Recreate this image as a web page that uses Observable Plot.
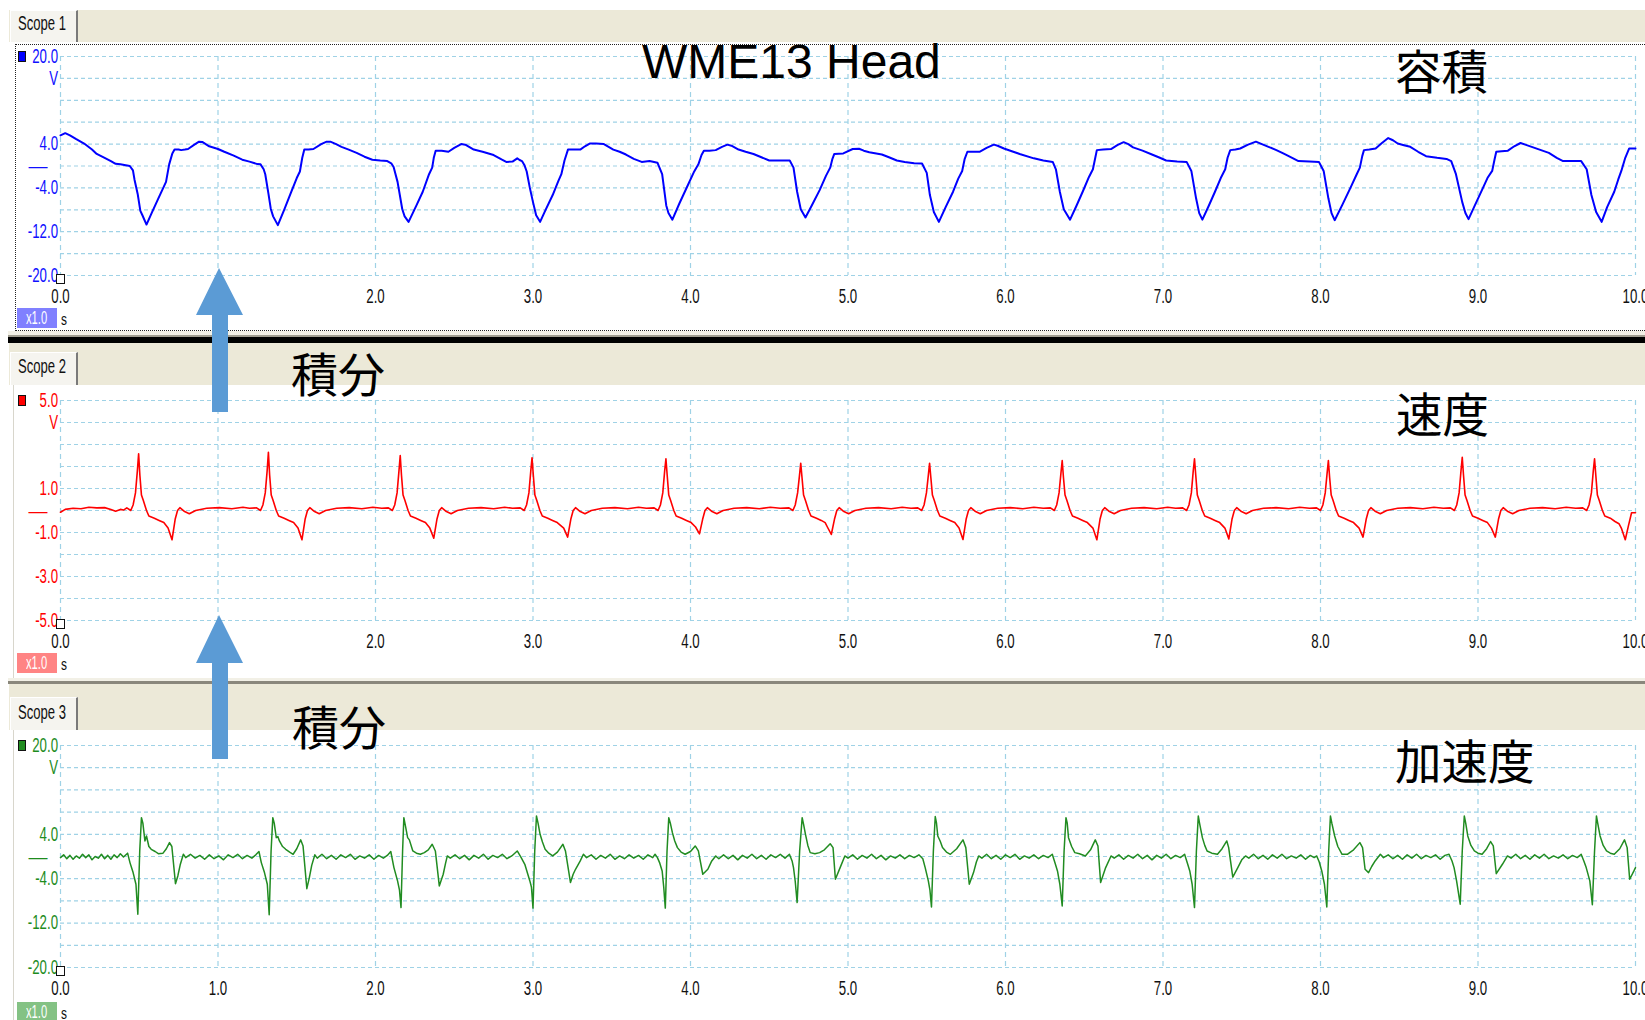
<!DOCTYPE html>
<html lang="ja">
<head>
<meta charset="utf-8">
<title>WME13 Head</title>
<script src="https://cdn.jsdelivr.net/npm/d3@7"></script>
<script src="https://cdn.jsdelivr.net/npm/@observablehq/plot@0.6"></script>
<style>
  html, body { margin: 0; padding: 0; background: #fff; overflow: hidden; }
  #page { position: relative; width: 1645px; height: 1020px; overflow: hidden;
          font-family: "Liberation Sans", Arial, sans-serif; }
  .abs { position: absolute; box-sizing: border-box; }
  .bar { background: #ECE9D8; }
  .tab { background: #F5F4EF; border-left: 1px solid #fff; border-top: 1px solid #fff;
         border-right: 2px solid #7a7a7a; }
  .cond { display: inline-block; transform-origin: 0 0; white-space: nowrap; }
  .frame { background: #fff; }
  .plot { position: absolute; left: 0; }
  svg.overlay { position: absolute; left: 0; top: 0; z-index: 10; pointer-events: none; }
</style>
</head>
<body>
<div id="page"></div>
<script>
// ---- data -------------------------------------------------------------
const chartTitle = "WME13 Head";
const scopeNames = ["Scope 1", "Scope 2", "Scope 3"];
const quantityNames = ["容積", "速度", "加速度"];
const integrateLabel = "積分";

const timeGrid = [0, 1, 2, 3, 4, 5, 6, 7, 8, 9, 10];
const timeTicks = [0, 1, 2, 3, 4, 5, 6, 7, 8, 9, 10];

const volumeGrid = [20, 16, 12, 8, 4, 0, -4, -8, -12, -16, -20];
const volumeTicks = [20, 16, 4, -4, -12, -20];
const volumeTickText = ["20.0", "V", "4.0", "-4.0", "-12.0", "-20.0"];

const velocityGrid = [5, 4, 3, 2, 1, 0, -1, -2, -3, -4, -5];
const velocityTicks = [5, 4, 1, -1, -3, -5];
const velocityTickText = ["5.0", "V", "1.0", "-1.0", "-3.0", "-5.0"];

const accelGrid = [20, 16, 12, 8, 4, 0, -4, -8, -12, -16, -20];
const accelTicks = [20, 16, 4, -4, -12, -20];
const accelTickText = ["20.0", "V", "4.0", "-4.0", "-12.0", "-20.0"];

// volume trace [s, V]
const volumeTrace = [
  [0.00,5.6],[0.03,6.0],[0.06,5.6],[0.10,4.9],[0.15,4.1],[0.20,3.0],[0.23,2.2],[0.28,1.5],[0.32,0.9],[0.35,0.4],[0.38,0.3],[0.44,0.0],
  [0.46,-0.8],[0.47,-2.5],[0.49,-5.1],[0.507,-8.2],[0.52,-9.0],[0.546,-10.7],
  [0.58,-8.5],[0.62,-6.0],[0.67,-2.9],[0.69,0.3],[0.71,2.3],[0.724,3.0],[0.75,3.0],[0.766,2.9],[0.79,3.0],[0.81,3.1],[0.85,3.9],[0.88,4.45],[0.90,4.4],[0.944,3.6],[1.00,3.1],[1.04,2.6],[1.10,1.9],[1.154,1.15],[1.20,0.8],[1.25,0.35],[1.27,0.3],
  [1.29,-0.6],[1.30,-1.5],[1.32,-5.0],[1.335,-7.8],[1.35,-9.2],[1.38,-10.8],
  [1.42,-8.0],[1.46,-5.1],[1.50,-2.2],[1.52,-1.0],[1.535,1.5],[1.548,3.0],[1.575,3.0],[1.606,3.1],[1.655,4.0],[1.69,4.45],[1.713,4.45],[1.75,4.0],[1.784,3.5],[1.83,3.0],[1.88,2.4],[1.93,1.7],[1.98,1.15],[2.03,1.0],[2.075,0.9],[2.10,0.5],
  [2.115,-0.2],[2.14,-2.9],[2.17,-7.9],[2.185,-9.2],[2.21,-10.2],
  [2.26,-7.2],[2.30,-4.7],[2.34,-1.5],[2.36,-0.3],[2.37,1.5],[2.382,2.8],[2.42,2.8],[2.463,2.6],[2.50,3.3],[2.544,4.0],[2.57,3.9],[2.624,3.0],[2.68,2.6],[2.75,2.0],[2.80,1.2],[2.83,0.75],[2.87,0.8],[2.90,1.4],[2.915,1.1],[2.93,0.9],[2.945,0.2],
  [2.96,-1.0],[2.98,-4.0],[3.00,-6.6],[3.02,-9.0],[3.045,-10.2],
  [3.08,-8.0],[3.125,-5.3],[3.16,-2.8],[3.18,-1.5],[3.20,1.0],[3.222,3.0],[3.26,3.0],[3.30,3.0],[3.33,3.6],[3.36,4.1],[3.40,4.1],[3.45,4.0],[3.51,3.0],[3.55,2.6],[3.59,2.1],[3.64,1.3],[3.69,0.75],[3.74,0.9],[3.79,0.6],
  [3.82,-1.5],[3.846,-7.2],[3.86,-8.6],[3.885,-9.8],
  [3.93,-6.8],[3.98,-3.7],[4.02,-1.2],[4.05,0.3],[4.07,2.0],[4.085,2.8],[4.12,2.8],[4.16,2.9],[4.20,3.5],[4.234,3.9],[4.26,3.7],[4.305,3.0],[4.35,2.6],[4.40,2.2],[4.45,1.6],[4.50,1.0],[4.56,1.0],[4.63,1.0],
  [4.654,-0.3],[4.677,-4.7],[4.70,-7.9],[4.73,-9.4],
  [4.77,-7.2],[4.82,-4.4],[4.86,-1.8],[4.887,-0.3],[4.90,1.2],[4.913,2.2],[4.97,2.3],[5.03,3.1],[5.07,3.15],[5.10,2.8],[5.135,2.5],[5.215,2.1],[5.26,1.6],[5.31,1.0],[5.36,0.75],[5.42,0.5],[5.47,0.45],
  [5.50,-1.25],[5.52,-5.3],[5.545,-8.4],[5.577,-10.2],
  [5.62,-7.5],[5.667,-4.7],[5.70,-2.3],[5.725,-0.9],[5.74,1.2],[5.758,2.6],[5.80,2.6],[5.835,2.6],[5.88,3.3],[5.926,3.9],[5.95,3.7],[5.99,3.2],[6.04,2.7],[6.09,2.2],[6.18,1.4],[6.24,1.0],[6.30,0.75],
  [6.32,-0.6],[6.345,-4.7],[6.37,-7.9],[6.41,-9.8],
  [6.45,-7.3],[6.49,-4.7],[6.53,-2.0],[6.555,-0.6],[6.57,1.5],[6.58,2.9],[6.62,3.0],[6.67,3.1],[6.71,3.8],[6.75,4.35],[6.78,4.0],[6.81,3.4],[6.87,2.8],[6.93,2.1],[6.98,1.5],[7.02,1.0],[7.09,0.8],[7.15,0.75],
  [7.18,-0.9],[7.21,-5.9],[7.23,-8.6],[7.25,-9.8],
  [7.29,-7.3],[7.33,-4.7],[7.37,-2.0],[7.395,-0.6],[7.41,1.5],[7.427,2.9],[7.46,3.0],[7.49,3.2],[7.54,3.9],[7.59,4.45],[7.62,4.1],[7.67,3.5],[7.72,2.9],[7.77,2.2],[7.82,1.5],[7.86,0.9],[7.93,0.8],[7.99,0.75],
  [8.02,-0.9],[8.05,-5.9],[8.07,-8.6],[8.09,-9.9],
  [8.14,-7.0],[8.19,-4.0],[8.23,-1.5],[8.25,-0.3],[8.265,1.8],[8.276,2.9],[8.31,3.0],[8.35,3.2],[8.39,4.2],[8.43,5.1],[8.46,4.7],[8.49,4.1],[8.53,3.8],[8.57,3.5],[8.62,2.6],[8.67,1.8],[8.74,1.5],[8.80,1.3],[8.83,0.9],
  [8.86,-1.5],[8.90,-6.6],[8.92,-8.6],[8.94,-9.7],
  [8.98,-7.2],[9.025,-4.4],[9.06,-2.2],[9.09,-0.9],[9.105,1.2],[9.116,2.6],[9.15,2.7],[9.19,2.8],[9.23,3.6],[9.27,4.2],[9.30,3.9],[9.35,3.4],[9.40,2.9],[9.45,2.4],[9.50,1.5],[9.54,0.9],[9.60,0.9],[9.655,0.9],
  [9.69,-0.6],[9.72,-5.3],[9.75,-8.4],[9.785,-10.2],
  [9.82,-7.5],[9.865,-4.7],[9.89,-2.5],[9.91,-0.9],[9.935,1.5],[9.96,3.2],[9.99,3.2],[10.0,3.2]
];

// velocity trace [s, V]
const velocityTrace = [
  [0,-0.08],[0.03,0.05],[0.08,0.1],[0.13,0.08],[0.18,0.15],[0.23,0.12],[0.28,0.13],[0.32,0.05],[0.35,-0.03],[0.38,0.05],[0.40,0.02],
  [0.421,0.12],[0.446,0.0],[0.461,0.25],[0.476,0.8],[0.488,1.8],[0.496,2.58],[0.504,1.6],[0.514,0.7],[0.526,0.45],[0.546,0.0],[0.561,-0.25],[0.596,-0.35],[0.626,-0.45],[0.656,-0.55],[0.683,-0.8],[0.708,-1.33],[0.728,-0.4],[0.743,0.0],[0.758,0.13],[0.788,-0.05],[0.818,-0.15],[0.858,0.0],[0.928,0.1],[1.008,0.13],[1.088,0.08],[1.158,0.15],[1.20,0.1],
  [1.245,0.12],[1.27,0.0],[1.285,0.25],[1.30,0.8],[1.312,1.8],[1.32,2.65],[1.328,1.6],[1.338,0.7],[1.35,0.45],[1.37,0.0],[1.385,-0.25],[1.42,-0.35],[1.45,-0.45],[1.48,-0.55],[1.508,-0.8],[1.533,-1.33],[1.553,-0.4],[1.568,0.0],[1.583,0.13],[1.613,-0.05],[1.643,-0.15],[1.683,0.0],[1.753,0.1],[1.833,0.13],[1.913,0.08],[1.983,0.15],[2.04,0.1],
  [2.082,0.12],[2.107,0.0],[2.122,0.25],[2.137,0.8],[2.149,1.8],[2.157,2.5],[2.165,1.6],[2.175,0.7],[2.187,0.45],[2.207,0.0],[2.222,-0.25],[2.257,-0.35],[2.287,-0.45],[2.317,-0.55],[2.345,-0.8],[2.37,-1.26],[2.39,-0.4],[2.405,0.0],[2.42,0.13],[2.45,-0.05],[2.48,-0.15],[2.52,0.0],[2.59,0.1],[2.67,0.13],[2.75,0.08],[2.82,0.15],[2.87,0.1],
  [2.919,0.12],[2.944,0.0],[2.959,0.25],[2.974,0.8],[2.986,1.8],[2.994,2.4],[3.002,1.6],[3.012,0.7],[3.024,0.45],[3.044,0.0],[3.059,-0.25],[3.094,-0.35],[3.124,-0.45],[3.154,-0.55],[3.195,-0.8],[3.22,-1.21],[3.24,-0.4],[3.255,0.0],[3.27,0.13],[3.30,-0.05],[3.33,-0.15],[3.37,0.0],[3.44,0.1],[3.52,0.13],[3.60,0.08],[3.67,0.15],[3.72,0.1],
  [3.769,0.12],[3.794,0.0],[3.809,0.25],[3.824,0.8],[3.836,1.8],[3.844,2.35],[3.852,1.6],[3.862,0.7],[3.874,0.45],[3.894,0.0],[3.909,-0.25],[3.944,-0.35],[3.974,-0.45],[4.004,-0.55],[4.032,-0.75],[4.057,-1.06],[4.077,-0.4],[4.092,0.0],[4.107,0.13],[4.137,-0.05],[4.167,-0.15],[4.207,0.0],[4.277,0.1],[4.357,0.13],[4.437,0.08],[4.507,0.15],[4.57,0.1],
  [4.625,0.12],[4.65,0.0],[4.665,0.25],[4.68,0.8],[4.692,1.6],[4.70,2.15],[4.708,1.5],[4.718,0.7],[4.73,0.45],[4.75,0.0],[4.765,-0.25],[4.80,-0.35],[4.83,-0.45],[4.855,-0.55],[4.869,-0.75],[4.894,-1.09],[4.914,-0.4],[4.929,0.0],[4.944,0.13],[4.974,-0.05],[5.004,-0.15],[5.044,0.0],[5.114,0.1],[5.194,0.13],[5.274,0.08],[5.344,0.15],[5.40,0.1],
  [5.443,0.12],[5.468,0.0],[5.483,0.25],[5.498,0.8],[5.51,1.6],[5.518,2.15],[5.526,1.5],[5.536,0.7],[5.548,0.45],[5.568,0.0],[5.583,-0.25],[5.618,-0.35],[5.648,-0.45],[5.678,-0.55],[5.705,-0.8],[5.73,-1.32],[5.75,-0.4],[5.765,0.0],[5.78,0.13],[5.81,-0.05],[5.84,-0.15],[5.88,0.0],[5.95,0.1],[6.03,0.13],[6.11,0.08],[6.18,0.15],[6.24,0.1],
  [6.285,0.12],[6.31,0.0],[6.325,0.25],[6.34,0.8],[6.352,1.7],[6.36,2.27],[6.368,1.5],[6.378,0.7],[6.39,0.45],[6.41,0.0],[6.425,-0.25],[6.46,-0.35],[6.49,-0.45],[6.52,-0.55],[6.555,-0.8],[6.58,-1.33],[6.60,-0.4],[6.615,0.0],[6.63,0.13],[6.66,-0.05],[6.69,-0.15],[6.73,0.0],[6.80,0.1],[6.88,0.13],[6.96,0.08],[7.03,0.15],[7.08,0.1],
  [7.125,0.12],[7.15,0.0],[7.165,0.25],[7.18,0.8],[7.192,1.8],[7.20,2.35],[7.208,1.6],[7.218,0.7],[7.23,0.45],[7.25,0.0],[7.265,-0.25],[7.30,-0.35],[7.33,-0.45],[7.36,-0.55],[7.393,-0.8],[7.418,-1.29],[7.438,-0.4],[7.453,0.0],[7.468,0.13],[7.498,-0.05],[7.528,-0.15],[7.568,0.0],[7.638,0.1],[7.718,0.13],[7.798,0.08],[7.868,0.15],[7.93,0.1],
  [7.975,0.12],[8.0,0.0],[8.015,0.25],[8.03,0.8],[8.042,1.7],[8.05,2.27],[8.058,1.5],[8.068,0.7],[8.08,0.45],[8.10,0.0],[8.115,-0.25],[8.15,-0.35],[8.18,-0.45],[8.21,-0.55],[8.245,-0.8],[8.27,-1.21],[8.29,-0.4],[8.305,0.0],[8.32,0.13],[8.35,-0.05],[8.38,-0.15],[8.42,0.0],[8.49,0.1],[8.57,0.13],[8.65,0.08],[8.72,0.15],[8.78,0.1],
  [8.825,0.12],[8.85,0.0],[8.865,0.25],[8.88,0.8],[8.892,1.8],[8.90,2.42],[8.908,1.6],[8.918,0.7],[8.93,0.45],[8.95,0.0],[8.965,-0.25],[9.0,-0.35],[9.03,-0.45],[9.06,-0.55],[9.085,-0.8],[9.11,-1.21],[9.13,-0.4],[9.145,0.0],[9.16,0.13],[9.19,-0.05],[9.22,-0.15],[9.26,0.0],[9.33,0.1],[9.41,0.13],[9.49,0.08],[9.56,0.15],[9.62,0.1],
  [9.665,0.12],[9.69,0.0],[9.705,0.25],[9.72,0.8],[9.732,1.8],[9.74,2.35],[9.748,1.6],[9.758,0.7],[9.77,0.45],[9.79,0.0],[9.805,-0.25],[9.84,-0.35],[9.87,-0.5],[9.895,-0.6],[9.91,-0.8],[9.935,-1.33],[9.955,-0.7],[9.975,-0.1],[10.0,-0.1]
];

// acceleration trace [s, V]
const accelTrace = [
  [0.00,-0.2],[0.02,0.3],[0.04,-0.4],[0.06,0.2],[0.08,-0.5],[0.10,0.1],[0.12,-0.3],[0.14,0.4],[0.16,-0.2],[0.18,0.3],[0.20,-0.6],[0.22,0.0],[0.24,-0.3],[0.26,0.4],[0.28,-0.4],[0.30,0.2],[0.32,-0.5],[0.34,0.3],[0.36,-0.2],[0.38,0.5],[0.40,-0.1],
  [0.426,0.6],[0.441,-1.1],[0.461,-2.9],[0.479,-5.0],[0.491,-10.4],[0.503,1.0],[0.514,7.0],[0.523,6.0],[0.536,2.8],[0.546,3.7],[0.561,1.8],[0.576,1.3],[0.601,0.9],[0.621,0.5],[0.651,0.6],[0.672,1.4],[0.692,2.5],[0.707,1.8],[0.73,-4.9],[0.745,-3.5],[0.76,-1.5],[0.78,0.4],[0.795,-0.2],
  [0.825,0.4],[0.855,-0.3],[0.885,0.2],[0.915,-0.5],[0.945,0.3],[0.975,-0.4],[1.005,0.1],[1.035,-0.6],[1.065,0.3],[1.095,-0.2],[1.125,0.4],[1.155,-0.4],[1.185,0.2],[1.215,-0.3],[1.24,0.3],
  [1.26,0.9],[1.275,-1.1],[1.295,-2.9],[1.313,-5.0],[1.325,-10.5],[1.337,1.0],[1.348,7.0],[1.357,6.0],[1.37,3.4],[1.38,3.6],[1.39,2.8],[1.41,1.8],[1.43,1.3],[1.455,0.8],[1.477,0.4],[1.50,1.4],[1.525,3.0],[1.54,1.9],[1.564,-5.8],[1.58,-3.8],[1.595,-1.6],[1.615,0.3],[1.63,-0.3],
  [1.66,0.4],[1.69,-0.4],[1.72,0.2],[1.75,-0.5],[1.78,0.3],[1.81,-0.2],[1.84,0.4],[1.87,-0.5],[1.90,0.1],[1.93,-0.3],[1.96,0.3],[1.99,-0.5],[2.02,0.2],[2.05,-0.3],[2.075,0.2],
  [2.097,0.9],[2.117,-2.0],[2.14,-4.4],[2.152,-6.0],[2.162,-9.2],[2.172,1.0],[2.18,7.0],[2.19,5.5],[2.204,3.4],[2.215,3.0],[2.237,1.0],[2.26,0.6],[2.285,0.4],[2.31,0.7],[2.335,1.2],[2.36,2.2],[2.38,1.0],[2.405,-5.3],[2.43,-3.2],[2.445,-1.2],[2.456,0.1],[2.475,-0.3],
  [2.505,0.3],[2.535,-0.4],[2.565,0.2],[2.595,-0.6],[2.625,0.2],[2.655,-0.3],[2.685,0.4],[2.715,-0.5],[2.745,0.2],[2.775,-0.2],[2.805,0.4],[2.835,-0.4],[2.865,0.1],
  [2.90,1.0],[2.925,-0.2],[2.948,-1.4],[2.98,-4.4],[2.99,-5.5],[3.0,-9.3],[3.011,1.0],[3.022,7.3],[3.032,6.0],[3.045,4.0],[3.06,2.6],[3.077,1.3],[3.10,0.6],[3.125,0.1],[3.155,0.8],[3.19,2.2],[3.206,1.0],[3.238,-4.7],[3.255,-3.2],[3.27,-2.3],[3.30,-0.8],[3.32,0.4],[3.34,-0.2],
  [3.37,0.3],[3.40,-0.5],[3.43,0.2],[3.46,-0.3],[3.49,0.4],[3.52,-0.5],[3.55,0.1],[3.58,-0.4],[3.61,0.3],[3.64,-0.3],[3.67,0.2],[3.70,-0.5],[3.73,0.3],[3.76,-0.2],
  [3.775,0.4],[3.79,-0.2],[3.805,-1.2],[3.82,-2.6],[3.83,-5.5],[3.84,-9.3],[3.851,1.0],[3.862,7.0],[3.872,6.0],[3.885,4.3],[3.90,2.8],[3.917,1.6],[3.94,0.8],[3.966,0.4],[4.0,0.9],[4.03,1.9],[4.05,1.0],[4.078,-3.2],[4.11,-2.3],[4.135,-0.8],[4.16,0.1],[4.18,-0.4],
  [4.21,0.3],[4.24,-0.4],[4.27,0.2],[4.30,-0.6],[4.33,0.2],[4.36,-0.3],[4.39,0.4],[4.42,-0.4],[4.45,0.2],[4.48,-0.5],[4.51,0.3],[4.54,-0.2],[4.57,0.4],[4.60,-0.3],
  [4.628,0.4],[4.645,-0.8],[4.654,-2.0],[4.665,-4.5],[4.677,-8.3],[4.693,1.0],[4.709,7.0],[4.718,5.8],[4.73,4.0],[4.745,2.0],[4.76,0.7],[4.79,0.5],[4.82,0.7],[4.85,1.2],[4.887,2.3],[4.905,1.6],[4.92,-4.1],[4.95,-2.0],[4.98,0.1],[5.0,-0.3],
  [5.03,0.3],[5.06,-0.5],[5.09,0.2],[5.12,-0.3],[5.15,0.4],[5.18,-0.4],[5.21,0.2],[5.24,-0.6],[5.27,0.1],[5.30,-0.3],[5.33,0.3],[5.36,-0.4],[5.39,0.2],[5.42,-0.2],[5.45,0.3],
  [5.475,-0.4],[5.49,-2.0],[5.51,-4.4],[5.52,-6.0],[5.53,-9.1],[5.542,1.0],[5.554,7.2],[5.562,6.0],[5.57,3.7],[5.585,2.8],[5.60,1.6],[5.625,0.8],[5.65,0.4],[5.69,1.4],[5.73,3.0],[5.748,1.6],[5.77,-5.0],[5.797,-2.9],[5.815,-1.0],[5.83,0.1],[5.85,-0.3],
  [5.88,0.4],[5.91,-0.4],[5.94,0.2],[5.97,-0.5],[6.00,0.3],[6.03,-0.2],[6.06,0.4],[6.09,-0.5],[6.12,0.1],[6.15,-0.3],[6.18,0.3],[6.21,-0.4],[6.24,0.2],[6.27,-0.2],
  [6.297,0.4],[6.315,-1.2],[6.33,-2.6],[6.345,-5.0],[6.36,-8.9],[6.372,1.0],[6.384,7.0],[6.392,6.0],[6.40,3.4],[6.42,1.8],[6.44,0.7],[6.47,0.5],[6.507,0.1],[6.54,1.2],[6.57,3.0],[6.587,1.9],[6.604,-4.7],[6.636,-2.0],[6.67,0.1],[6.69,-0.3],
  [6.72,0.3],[6.75,-0.5],[6.78,0.2],[6.81,-0.3],[6.84,0.4],[6.87,-0.4],[6.90,0.2],[6.93,-0.6],[6.96,0.2],[6.99,-0.3],[7.02,0.4],[7.05,-0.4],[7.08,0.2],[7.11,-0.2],
  [7.137,0.4],[7.155,-1.2],[7.17,-2.6],[7.185,-5.0],[7.20,-9.2],[7.212,1.0],[7.224,7.3],[7.232,6.0],[7.25,3.4],[7.265,2.0],[7.28,1.0],[7.31,0.6],[7.346,0.4],[7.375,1.4],[7.405,2.8],[7.417,1.6],[7.443,-3.7],[7.475,-2.0],[7.50,-0.6],[7.524,0.1],[7.545,-0.3],
  [7.575,0.4],[7.605,-0.4],[7.635,0.2],[7.665,-0.5],[7.695,0.3],[7.725,-0.3],[7.755,0.4],[7.785,-0.4],[7.815,0.1],[7.845,-0.3],[7.875,0.3],[7.905,-0.5],[7.935,0.2],[7.96,-0.2],
  [7.976,0.1],[7.992,-1.0],[8.008,-2.6],[8.025,-5.0],[8.04,-9.1],[8.052,1.0],[8.063,7.3],[8.072,6.0],[8.09,3.7],[8.11,1.8],[8.137,0.4],[8.17,0.4],[8.21,1.2],[8.25,2.5],[8.267,1.6],[8.283,-2.3],[8.305,-2.9],[8.325,-1.8],[8.347,-0.8],[8.38,0.4],[8.40,-0.2],
  [8.43,0.3],[8.46,-0.4],[8.49,0.2],[8.52,-0.5],[8.55,0.3],[8.58,-0.3],[8.61,0.4],[8.64,-0.4],[8.67,0.2],[8.70,-0.2],[8.73,0.3],[8.76,-0.5],[8.79,0.2],
  [8.816,0.4],[8.835,-0.8],[8.848,-2.0],[8.864,-4.4],[8.887,-8.6],[8.90,1.0],[8.913,7.3],[8.922,6.0],[8.935,3.7],[8.955,2.0],[8.977,1.0],[9.0,0.6],[9.026,0.4],[9.055,1.4],[9.08,2.7],[9.097,1.9],[9.116,-3.1],[9.155,-1.4],[9.187,0.1],[9.21,-0.3],
  [9.24,0.4],[9.27,-0.4],[9.30,0.2],[9.33,-0.5],[9.36,0.3],[9.39,-0.3],[9.42,0.4],[9.45,-0.4],[9.48,0.1],[9.51,-0.3],[9.54,0.3],[9.57,-0.4],[9.60,0.2],[9.63,-0.2],
  [9.655,0.4],[9.672,-0.8],[9.687,-2.0],[9.71,-4.4],[9.726,-8.7],[9.74,1.0],[9.752,7.3],[9.76,6.0],[9.775,3.7],[9.795,2.0],[9.816,1.0],[9.84,0.6],[9.865,0.4],[9.90,1.4],[9.93,3.0],[9.947,1.6],[9.963,-4.1],[9.99,-2.6],[10.0,-2.0]
];

// ---- panel layout and styling -----------------------------------------
const GRID = "#9fd2e6";
const scopes = [
  { trace: volumeTrace, grid: volumeGrid, ticks: volumeTicks, tickText: volumeTickText, domain: [-20, 20],
    color: "#0000ff", labelColor: "#1010ff", boxColor: "#8080ff", lineWidth: 2,
    bar: [10, 32], tab: [10, 32], tabBaseline: 29.5, frame: [44, 287], focus: true,
    svg: [44, 287, 12, 56], xboxTop: 308 },
  { trace: velocityTrace, grid: velocityGrid, ticks: velocityTicks, tickText: velocityTickText, domain: [-5, 5],
    color: "#ff0000", labelColor: "#ff0000", boxColor: "#ff8484", lineWidth: 1.6,
    bar: [343, 42], tab: [352, 33], tabBaseline: 373, frame: [385, 293], focus: false,
    svg: [386, 292, 14, 58], xboxTop: 653 },
  { trace: accelTrace, grid: accelGrid, ticks: accelTicks, tickText: accelTickText, domain: [-20, 20],
    color: "#218c21", labelColor: "#1e8c1e", boxColor: "#84c284", lineWidth: 1.5,
    bar: [684, 46], tab: [697, 33], tabBaseline: 719, frame: [730, 290], focus: false,
    svg: [731, 289, 14, 53], xboxTop: 1002 }
];
const separators = [
  { top: 331, height: 4, color: "#f2f0e6" }, { top: 335, height: 2, color: "#a09d90" }, { top: 337, height: 6, color: "#000" },
  { top: 678, height: 3, color: "#f2f0e6" }, { top: 681, height: 3, color: "#8a877c" }
];

const page = document.getElementById("page");
function div(cls, css, html) {
  const d = document.createElement("div");
  d.className = cls;
  Object.assign(d.style, css);
  if (html != null) d.innerHTML = html;
  page.appendChild(d);
  return d;
}

// horizontally condense the tick label texts (narrow screen font look)
function condense(svg, sx) {
  svg.querySelectorAll("text").forEach(t => {
    if (t.textContent === "—") return;
    const tr = t.getAttribute("transform") || "";
    t.setAttribute("transform", `${tr} scale(${sx},1)`);
  });
}

scopes.forEach((s, k) => {
  // tab strip
  div("abs bar", { left: "9px", top: s.bar[0] + "px", width: "1636px", height: s.bar[1] + "px" });
  div("abs tab", { left: "10px", top: s.tab[0] + "px", width: "68px", height: s.tab[1] + "px" });
  div("abs", { left: "18px", top: (s.tabBaseline - 17) + "px", font: "19.5px/20px 'Liberation Sans', Arial, sans-serif", color: "#111" },
      `<span class="cond" style="transform:scaleX(0.67)">${scopeNames[k]}</span>`);

  // scope frame
  div("abs frame", Object.assign({ left: "13px", top: s.frame[0] + "px", width: "1640px", height: s.frame[1] + "px" },
      s.focus ? { border: "1px dotted #222", left: "15px" } : { borderLeft: "1px solid #d8d6cc" }));

  const [top, height, mt, mb] = s.svg;
  const svg = Plot.plot({
    width: 1645, height, marginLeft: 60, marginRight: 10, marginTop: mt, marginBottom: mb,
    x: { domain: [0, 10], axis: null },
    y: { domain: s.domain, axis: null },
    style: { background: "transparent", overflow: "visible", fontFamily: "'Liberation Sans', Arial, sans-serif" },
    marks: [
      Plot.ruleY(s.grid, { y: d => d, stroke: GRID, strokeDasharray: "4,3", strokeWidth: 1.2 }),
      Plot.ruleX(timeGrid, { x: d => d, stroke: GRID, strokeDasharray: "5,4", strokeWidth: 1.2 }),
      Plot.line(s.trace, { x: d => d[0], y: d => d[1], stroke: s.color, strokeWidth: s.lineWidth }),
      Plot.text(s.ticks, { y: d => d, text: (d, i) => s.tickText[i], frameAnchor: "left", textAnchor: "end",
        lineAnchor: "middle", dx: -2.5, fill: s.labelColor, fontSize: 19.5 }),
      Plot.text([0], { y: d => d, text: () => "—", frameAnchor: "left", textAnchor: "middle",
        lineAnchor: "middle", dx: -22.5, fill: s.labelColor, fontSize: 19 }),
      Plot.text(timeTicks, { x: d => d, text: d => d.toFixed(1), frameAnchor: "bottom", lineAnchor: "middle",
        dy: 21, fill: "#111", fontSize: 19.5 })
    ]
  });
  condense(svg, 0.68);
  svg.classList.add("plot");
  svg.style.top = top + "px";
  page.appendChild(svg);

  // channel square, origin marker, scale box
  const yTop = top + mt, yBot = top + height - mb;
  div("abs", { left: "18px", top: (yTop - 5) + "px", width: "8px", height: "11px", background: s.color, border: "1px solid #111" });
  div("abs", { left: "56px", top: (yBot - 1) + "px", width: "9px", height: "10px", background: "#fff", border: "1.5px solid #111" });
  div("abs", { left: "17px", top: s.xboxTop + "px", width: "40px", height: "20px", background: s.boxColor,
    color: "#fff", font: "18px/20px 'Liberation Sans', Arial, sans-serif", paddingLeft: "9px" },
    `<span class="cond" style="transform:scaleX(0.62)">x1.0</span>`);
  div("abs", { left: "61px", top: (s.xboxTop + 2) + "px", color: "#111", font: "17px/20px 'Liberation Sans', Arial, sans-serif" },
    `<span class="cond" style="transform:scaleX(0.7)">s</span>`);
});

separators.forEach(p => div("abs", { left: "8px", top: p.top + "px", width: "1637px", height: p.height + "px", background: p.color }));

// ---- annotations: title, quantity names, integration arrows -------------
const NS = "http://www.w3.org/2000/svg";
const ov = document.createElementNS(NS, "svg");
ov.setAttribute("class", "overlay");
ov.setAttribute("width", 1645);
ov.setAttribute("height", 1020);
page.appendChild(ov);
function el(tag, attrs, text) {
  const e = document.createElementNS(NS, tag);
  for (const k in attrs) e.setAttribute(k, attrs[k]);
  if (text != null) e.textContent = text;
  ov.appendChild(e);
  return e;
}
const ARROW = "#5b9bd5";
[[268, 315, 412], [615, 663, 759]].forEach(([tip, base, end]) => {
  el("polygon", { fill: ARROW, points: `219,${tip} 243,${base} 228,${base} 228,${end} 212,${end} 212,${base} 196,${base}` });
});
const jp = "'Noto Sans CJK JP', 'Noto Sans CJK SC', sans-serif";
el("text", { x: 642, y: 78, "font-size": 48, "font-family": "'Liberation Sans', Arial, sans-serif", fill: "#000" }, chartTitle);
el("text", { x: 1395, y: 88.5, "font-size": 46.5, "font-family": jp, fill: "#000" }, quantityNames[0]);
el("text", { x: 1396, y: 431.5, "font-size": 46.5, "font-family": jp, fill: "#000" }, quantityNames[1]);
el("text", { x: 1395, y: 778.5, "font-size": 46.5, "font-family": jp, fill: "#000" }, quantityNames[2]);
el("text", { x: 291, y: 391.5, "font-size": 47, "font-family": jp, fill: "#000" }, integrateLabel);
el("text", { x: 292, y: 744.5, "font-size": 47, "font-family": jp, fill: "#000" }, integrateLabel);
</script>
</body>
</html>
